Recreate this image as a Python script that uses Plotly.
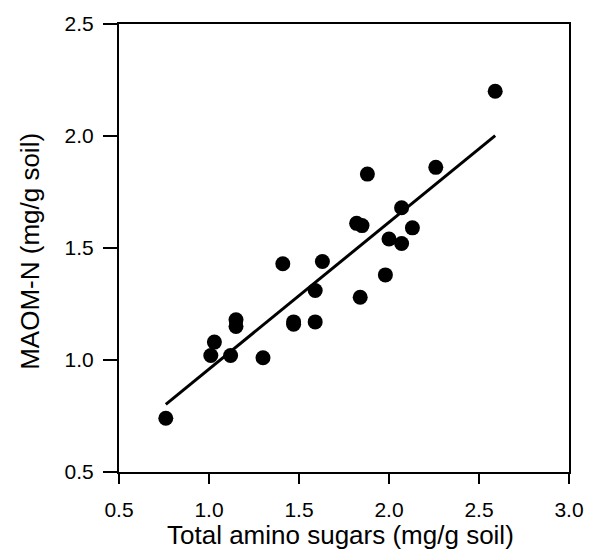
import numpy as np
import plotly.graph_objects as go

# Total amino sugars vs. mineral-associated organic matter N (mg/g soil)
amino_sugars = [0.76, 1.01, 1.03, 1.12, 1.15, 1.15, 1.30, 1.41, 1.47, 1.47,
                1.59, 1.59, 1.63, 1.82, 1.85, 1.84, 1.88, 1.98, 2.00, 2.07,
                2.07, 2.13, 2.26, 2.59]
maom_n = [0.74, 1.02, 1.08, 1.02, 1.18, 1.15, 1.01, 1.43, 1.17, 1.16,
          1.31, 1.17, 1.44, 1.61, 1.60, 1.28, 1.83, 1.38, 1.54, 1.68,
          1.52, 1.59, 1.86, 2.20]

x_ticks = [0.5, 1.0, 1.5, 2.0, 2.5, 3.0]
y_ticks = [0.5, 1.0, 1.5, 2.0, 2.5]

x_title = "Total amino sugars (mg/g soil)"
y_title = "MAOM-N (mg/g soil)"

# least-squares fit drawn over the observed range
x = np.array(amino_sugars)
y = np.array(maom_n)
slope, intercept = np.polyfit(x, y, 1)
fit_x = np.array([x.min(), x.max()])
fit_y = slope * fit_x + intercept

fig = go.Figure()
fig.add_trace(go.Scatter(
    x=fit_x, y=fit_y, mode="lines",
    line=dict(color="black", width=3), showlegend=False, hoverinfo="skip",
))
fig.add_trace(go.Scatter(
    x=amino_sugars, y=maom_n, mode="markers",
    marker=dict(color="black", size=15, line=dict(width=0)),
    showlegend=False,
))

font = dict(family="Liberation Sans, Arial, sans-serif", color="black")
fig.update_layout(
    width=596, height=551,
    margin=dict(l=119, r=24, t=18, b=79, pad=0),
    plot_bgcolor="white", paper_bgcolor="white",
    font=dict(**font, size=21),
)
axis_style = dict(
    showline=True, linecolor="black", linewidth=2, mirror=True,
    ticks="outside", tickwidth=2, tickcolor="black",
    showgrid=False, zeroline=False,
)
fig.update_xaxes(
    range=[0.5, 3.0], tickvals=x_ticks, ticktext=[f"{v:.1f}" for v in x_ticks],
    ticklen=10, ticklabelstandoff=8, tickfont=dict(**font, size=21), **axis_style,
)
fig.update_yaxes(
    range=[0.5, 2.5], tickvals=y_ticks, ticktext=[f"{v:.1f}" for v in y_ticks],
    ticklen=14, ticklabelstandoff=5, tickfont=dict(**font, size=21), **axis_style,
)

# axis titles
fig.add_annotation(
    text=x_title, xref="paper", yref="paper", x=0.492, y=-0.141,
    xanchor="center", yanchor="middle", showarrow=False,
    font=dict(**font, size=26),
)
fig.add_annotation(
    text=y_title, xref="paper", yref="paper", x=-0.1985, y=0.493,
    xanchor="center", yanchor="middle", showarrow=False, textangle=-90,
    font=dict(**font, size=26),
)

fig.write_html("out.html")
